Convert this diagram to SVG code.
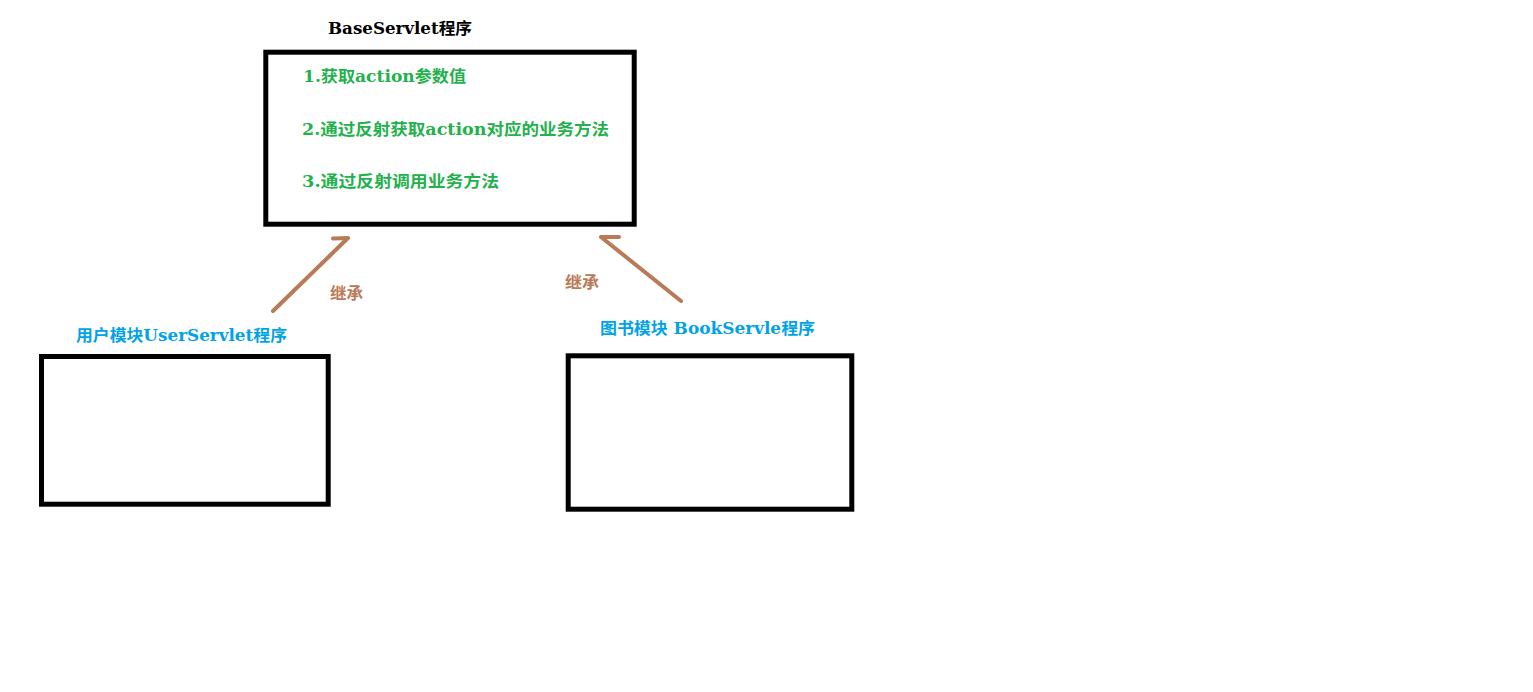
<svg xmlns="http://www.w3.org/2000/svg" width="1533" height="692" viewBox="0 0 1533 692">
  <style>
    .box { fill: #ffffff; stroke: #000000; stroke-width: 5; }
    .t { font-family: "DejaVu Serif", "Liberation Serif", "Noto Sans CJK SC", serif; font-weight: bold; }
    .title { fill: #000000; font-size: 16px; }
    .green { fill: #22B14C; font-size: 16px; }
    .blue { fill: #00A2E8; font-size: 16px; }
    .brown { fill: #B97A57; font-size: 16px; }
    .conn { fill: none; stroke: #B97A57; stroke-width: 4; stroke-linecap: round; stroke-linejoin: round; }
  </style>
  <rect width="1533" height="692" fill="#ffffff"/>
  <g id="base-servlet">
    <text class="t title" x="328" y="34" textLength="144" lengthAdjust="spacingAndGlyphs">BaseServlet程序</text>
    <rect class="box" x="265.8" y="52.2" width="368.4" height="172"/>
    <text class="t green" x="303" y="82" textLength="163" lengthAdjust="spacingAndGlyphs">1.获取action参数值</text>
    <text class="t green" x="302" y="135" textLength="307" lengthAdjust="spacingAndGlyphs">2.通过反射获取action对应的业务方法</text>
    <text class="t green" x="302" y="186.5" textLength="197" lengthAdjust="spacingAndGlyphs">3.通过反射调用业务方法</text>
  </g>
  <g id="user-servlet">
    <text class="t blue" x="76" y="341" textLength="211" lengthAdjust="spacingAndGlyphs">用户模块UserServlet程序</text>
    <rect class="box" x="41.5" y="356.5" width="286.7" height="147.7"/>
  </g>
  <g id="book-servlet">
    <text class="t blue" x="600" y="334" textLength="215" lengthAdjust="spacingAndGlyphs">图书模块 BookServle程序</text>
    <rect class="box" x="568.2" y="355.8" width="283.6" height="153.4"/>
  </g>
  <g id="connectors">
    <path class="conn" d="M273,311 L348,238 M333,238.5 L348,238"/>
    <path class="conn" d="M681,301 L601,237 M601,237 L619,237"/>
    <text class="t brown" x="330" y="299" textLength="33" lengthAdjust="spacingAndGlyphs">继承</text>
    <text class="t brown" x="565" y="288" textLength="34" lengthAdjust="spacingAndGlyphs">继承</text>
  </g>
</svg>
